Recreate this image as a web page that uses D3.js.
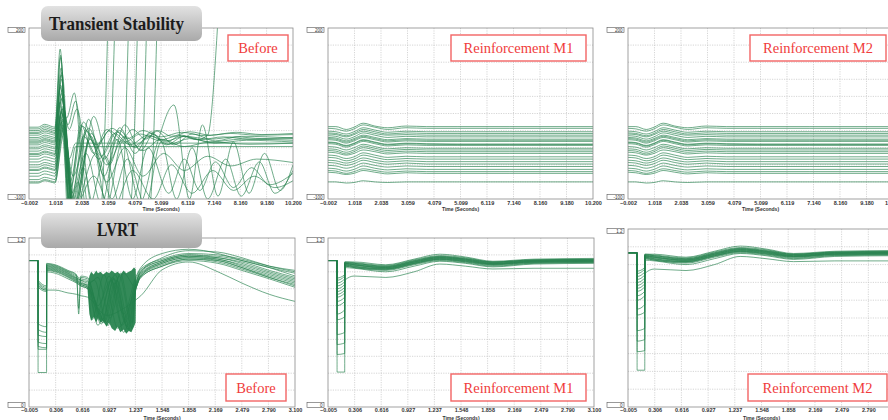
<!DOCTYPE html>
<html>
<head>
<meta charset="utf-8">
<script src="https://cdn.jsdelivr.net/npm/d3@7"></script>
<style>
  body { margin: 0; background: #fff; }
  svg { display: block; }
  .tick text { font-family: "Liberation Sans", Arial, sans-serif; font-size: 5.5px; font-weight: bold; fill: #333; }
</style>
</head>
<body>
<svg id="chart" width="888" height="420"></svg>
<script>
// ---------- data ----------
var topTicks = [-0.002, 1.018, 2.038, 3.059, 4.079, 5.099, 6.119, 7.140, 8.160, 9.180, 10.200];
var lvrtTicks = [-0.005, 0.306, 0.616, 0.927, 1.237, 1.548, 1.858, 2.169, 2.479, 2.790, 3.100];
var angleRange = [-100, 200];
var voltRange = [0, 1.2];
var angleLabels = ["200", "-100"];
var voltLabels = ["1.2", "0"];
var caseNames = ["Before", "Reinforcement M1", "Reinforcement M2"];
var studyNames = ["Transient Stability", "LVRT"];

// rotor angles before reinforcement, [time, angle]
var angleBefore = [
  [[-0.002,26],[0.35,26],[0.6,31],[0.9,27],[1.0,26],[1.2,163],[1.55,-125],[2.75,-125],[3.05,215]],
  [[-0.002,20],[0.35,20],[0.6,25],[0.9,21],[1.0,20],[1.22,148],[1.58,-125],[2.1,-45],[2.5,-115],[3.0,-115],[3.32,215]],
  [[-0.002,12],[0.35,12],[0.6,16],[0.9,13],[1.0,12],[1.27,122],[1.65,-115],[1.9,-70],[2.15,-120],[3.55,-120],[3.85,215]],
  [[-0.002,5],[0.35,5],[0.6,9],[0.9,6],[1.0,5],[1.2,96],[1.45,42],[1.75,86],[2.2,-115],[3.9,-115],[4.2,215]],
  [[-0.002,-2],[0.35,-2],[0.6,2],[0.9,-1],[1.0,-2],[1.25,76],[1.5,30],[1.8,72],[2.3,-115],[2.95,-25],[3.55,-115],[4.25,-115],[4.55,215]],
  [[-0.002,-9],[0.35,-9],[0.6,-5],[0.9,-8],[1.0,-9],[1.3,62],[1.55,22],[1.85,58],[2.45,-115],[4.65,-115],[4.95,215]],
  [[-0.002,-16],[0.35,-16],[0.6,-12],[0.9,-15],[1.0,-16],[1.25,52],[1.7,-60],[2.3,24],[2.9,-30],[3.5,20],[4.1,-10],[4.7,15],[5.3,0],[5.9,12],[6.5,4],[6.9,12],[7.3,215]],
  [[-0.002,-25],[0.35,-25],[0.6,-21],[0.9,-24],[1.0,-25],[1.2,45],[1.55,-100],[2.0,30],[2.5,-20],[3.0,22],[3.5,0],[4.0,22],[4.5,5],[5.0,20],[5.5,10],[6.2,18],[7.0,12],[8.0,17],[9.0,13],[10.2,15]],
  [[-0.002,-35],[0.35,-35],[0.6,-31],[0.9,-34],[1.0,-35],[1.25,35],[1.6,-110],[2.1,10],[2.7,-30],[3.3,15],[3.9,-5],[4.6,12],[5.3,2],[6.0,10],[7.0,5],[8.0,9],[9.0,6],[10.2,8]],
  [[-0.002,-48],[0.35,-48],[0.6,-44],[0.9,-47],[1.0,-48],[1.3,30],[1.7,-120],[2.3,40],[2.9,-60],[3.5,25],[4.1,-20],[4.7,18],[5.3,-5],[6.0,10],[7.0,0],[8.2,5],[10.2,3]],
  [[-0.002,-60],[0.35,-60],[0.6,-56],[0.9,-59],[1.0,-60],[1.3,40],[1.7,-120],[2.4,15],[3.0,-40],[3.7,10],[4.4,-15],[5.1,5],[6.0,-8],[7.0,0],[8.5,-4],[10.2,-2]],
  [[-0.002,-72],[0.35,-72],[0.6,-68],[0.9,-71],[1.0,-72],[1.35,30],[1.75,-120],[2.4,10],[3.0,-110],[3.6,0],[4.3,-105],[4.9,-10],[5.6,65],[6.2,-100],[6.7,30],[7.3,-95],[7.9,0],[8.5,-90],[9.1,-20],[9.7,-85],[10.2,-40]],
  [[-0.002,-55],[0.35,-55],[0.6,-51],[0.9,-54],[1.0,-55],[1.3,25],[1.7,-120],[2.6,-20],[3.2,-100],[3.8,-30],[4.5,-110],[5.1,0],[5.7,-100],[6.3,-10],[6.9,-100],[7.6,-30],[8.2,-95],[8.9,-35],[9.5,-90],[10.2,-50]],
  [[-0.002,-40],[0.35,-40],[0.6,-36],[0.9,-39],[1.0,-40],[1.25,55],[1.6,-100],[2.2,-20],[2.8,-110],[3.4,5],[4.0,-100],[4.6,-10],[5.4,-90],[6.0,-30],[6.6,-85],[7.2,-35],[7.9,-80],[8.6,-45],[9.3,-75],[10.2,-55]],
  [[-0.002,-66],[0.35,-66],[0.6,-62],[0.9,-65],[1.0,-66],[1.3,20],[1.7,-120],[2.5,-60],[3.2,-120],[4.0,-50],[4.8,-100],[5.5,-40],[6.3,-90],[7.1,-50],[7.9,-85],[8.7,-60],[9.5,-80],[10.2,-68]],
  [[-0.002,-20],[0.35,-20],[0.6,-16],[0.9,-19],[1.0,-20],[1.2,70],[1.55,-60],[1.8,-8],[10.2,-8]],
  [[-0.002,0],[0.35,0],[0.6,4],[0.9,1],[1.0,0],[1.25,85],[1.55,-30],[1.8,-2],[10.2,-2]],
  [[-0.002,23],[0.35,23],[0.6,28],[0.9,24],[1.0,23],[1.22,152],[1.5,-130],[10.2,-130]],
  [[-0.002,15],[0.35,15],[0.6,19],[0.9,16],[1.0,15],[1.24,130],[1.55,-130],[10.2,-130]],
  [[-0.002,8],[0.35,8],[0.6,12],[0.9,9],[1.0,8],[1.26,110],[1.6,-130],[10.2,-130]],
  [[-0.002,-5],[0.35,-5],[0.6,-1],[0.9,-4],[1.0,-5],[1.28,92],[1.65,-130],[10.2,-130]],
  [[-0.002,-12],[0.35,-12],[0.6,-8],[0.9,-11],[1.0,-12],[1.3,80],[1.7,-130],[10.2,-130]],
  [[-0.002,-30],[0.35,-30],[0.6,-26],[0.9,-29],[1.0,-30],[1.32,60],[1.75,-130],[10.2,-130]],
  [[-0.002,-44],[0.35,-44],[0.6,-40],[0.9,-43],[1.0,-44],[1.3,48],[1.8,-130],[10.2,-130]],
  [[-0.002,2],[0.35,2],[0.6,6],[0.9,3],[1.0,2],[1.22,100],[1.6,-80],[2.1,35],[2.6,-10],[3.1,20],[3.7,0],[4.3,14],[5.0,3],[5.8,11],[6.6,4],[7.5,9],[8.5,5],[10.2,6]],
  [[-0.002,-70],[0.35,-70],[0.6,-66],[0.9,-69],[1.0,-70],[1.35,15],[1.8,-110],[2.5,45],[3.1,-40],[3.7,30],[4.3,-15],[4.9,20],[5.6,-5],[6.3,14],[7.2,2],[8.2,10],[10.2,7]],
  [[-0.002,17],[0.35,17],[0.6,22],[0.9,18],[1.0,17],[1.24,118],[1.58,-70],[2.05,28],[2.6,-5],[3.2,24],[3.8,6],[4.4,20],[5.1,9],[5.9,17],[6.8,11],[7.8,15],[8.8,12],[10.2,13]],
  [[-0.002,-22],[0.35,-22],[0.6,-18],[0.9,-21],[1.0,-22],[1.28,58],[1.65,-90],[2.2,20],[2.8,-25],[3.4,18],[4.0,-8],[4.7,10],[5.4,-4],[6.2,6],[7.2,-2],[8.4,3],[10.2,0]],
  [[-0.002,-50],[0.35,-50],[0.6,-46],[0.9,-49],[1.0,-50],[1.32,38],[1.72,-115],[2.35,5],[3.0,-70],[3.7,-10],[4.4,-60],[5.2,-20],[6.0,-50],[6.9,-25],[7.8,-42],[8.8,-30],[10.2,-36]]
];

// rotor angles after reinforcement (M1 and M2 look the same), one value per time
var angleTimes = [-0.002, 0.3, 0.7, 1.0, 1.35, 1.8, 2.3, 3.0, 3.8, 5.0, 7.0, 10.2];
var angleReinf = [
  [27, 27, 22, 26, 33, 28, 25, 28, 27, 27, 27, 27],
  [24, 23, 19, 23, 30, 26, 22, 25, 24, 24, 24, 24],
  [19, 18, 14, 18, 25, 21, 17, 19, 18, 18, 18, 18],
  [16, 15, 11, 15, 22, 18, 14, 16, 15, 15, 15, 15],
  [14, 13, 9, 13, 19, 15, 12, 13, 12, 12, 12, 12],
  [11, 10, 5, 9, 16, 12, 8, 10, 9, 9, 9, 9],
  [8, 7, 2, 6, 12, 8, 4, 6, 5, 5, 5, 5],
  [6, 5, 0, 4, 10, 6, 2, 4, 3, 3, 3, 3],
  [4, 3, -2, 2, 8, 4, 0, 2, 1, 1, 1, 1],
  [0, -1, -6, -2, 4, 0, -4, -2, -3, -3.5, -3.5, -3.5],
  [-1, -2, -7, -3, 3, -1, -5, -3, -4, -4.5, -4.5, -4.5],
  [-3, -4, -9, -5, 1, -3, -7, -5, -6, -6, -6, -6],
  [-8, -9, -14, -10, -4, -8, -12, -10, -11, -11, -11, -11],
  [-12, -13, -18, -14, -7, -11, -15, -13, -14, -14, -14, -14],
  [-15, -16, -21, -17, -10, -14, -18, -16, -17, -17, -17, -17],
  [-18, -19, -23, -20, -14, -17, -21, -19, -20, -20, -20, -20],
  [-23, -24, -29, -26, -19, -23, -27, -25, -26, -26, -26, -26],
  [-27, -28, -33, -30, -23, -27, -31, -29, -30, -30, -30, -30],
  [-32, -33, -37, -34, -28, -32, -35, -33, -34.5, -34.5, -34.5, -34.5],
  [-36, -37, -41, -38, -32, -36, -39, -37, -38.6, -38.6, -38.6, -38.6],
  [-41, -42, -46, -43, -37, -41, -44, -42, -43, -43, -43, -43],
  [-46, -47, -51, -48, -42, -46, -49, -47, -48, -48, -48, -48],
  [-50, -51, -55, -52, -47, -50, -53, -51, -52, -52, -52, -52],
  [-53, -54, -57, -55, -50, -53, -56, -54, -55, -55, -55, -55],
  [-70, -70, -72, -71, -68, -70, -71, -70, -70, -70, -70, -70]
];

// LVRT voltages before reinforcement, [time, pu]
var voltBefore = [
  [[-0.005,1.04],[0.1,1.04],[0.101,0.90],[0.2,0.86],[0.201,1.02],[0.3,1.01],[0.45,0.97],[0.55,0.94],[0.575,0.66],[0.6,0.93],[0.68,0.92],[0.8,0.72],[0.95,0.9],[1.1,0.66],[1.24,0.92],[1.3,0.99],[1.55,1.09],[1.86,1.12],[2.2,1.09],[2.48,1.04],[2.8,0.99],[3.1,0.95]],
  [[-0.005,1.04],[0.1,1.04],[0.101,0.89],[0.2,0.85],[0.201,1.015],[0.3,1.005],[0.45,0.965],[0.55,0.935],[0.575,0.7],[0.6,0.92],[0.68,0.91],[0.82,0.66],[0.97,0.92],[1.12,0.6],[1.24,0.9],[1.3,0.98],[1.55,1.05],[1.86,1.09],[2.2,1.08],[2.48,1.05],[2.8,1.0],[3.1,0.97]],
  [[-0.005,1.04],[0.1,1.04],[0.101,0.88],[0.2,0.84],[0.201,1.01],[0.3,1.0],[0.45,0.96],[0.55,0.93],[0.6,0.91],[0.68,0.9],[0.78,0.64],[0.93,0.93],[1.08,0.58],[1.24,0.88],[1.3,0.97],[1.55,1.04],[1.86,1.08],[2.2,1.07],[2.48,1.04],[2.8,0.99],[3.1,0.93]],
  [[-0.005,1.04],[0.1,1.04],[0.101,0.87],[0.2,0.83],[0.201,1.005],[0.3,0.995],[0.45,0.955],[0.55,0.92],[0.6,0.9],[0.68,0.89],[0.85,0.62],[1.0,0.94],[1.15,0.55],[1.24,0.87],[1.3,0.96],[1.55,1.04],[1.86,1.08],[2.2,1.06],[2.48,1.03],[2.8,0.97],[3.1,0.92]],
  [[-0.005,1.04],[0.1,1.04],[0.101,0.86],[0.2,0.83],[0.201,1.0],[0.3,0.99],[0.45,0.95],[0.55,0.915],[0.6,0.9],[0.68,0.88],[0.76,0.9],[0.9,0.6],[1.05,0.93],[1.2,0.56],[1.24,0.86],[1.3,0.95],[1.55,1.03],[1.86,1.07],[2.2,1.06],[2.48,1.02],[2.8,0.96],[3.1,0.91]],
  [[-0.005,1.04],[0.1,1.04],[0.101,0.85],[0.2,0.82],[0.201,0.995],[0.3,0.985],[0.45,0.945],[0.55,0.91],[0.6,0.89],[0.68,0.87],[0.8,0.92],[0.94,0.63],[1.1,0.95],[1.24,0.85],[1.3,0.94],[1.55,1.03],[1.86,1.07],[2.2,1.05],[2.48,1.01],[2.8,0.95],[3.1,0.90]],
  [[-0.005,1.04],[0.1,1.04],[0.101,0.59],[0.2,0.57],[0.201,0.99],[0.3,0.98],[0.45,0.94],[0.55,0.905],[0.6,0.88],[0.68,0.86],[0.84,0.59],[0.99,0.91],[1.14,0.57],[1.24,0.85],[1.3,0.94],[1.55,1.02],[1.86,1.06],[2.2,1.05],[2.48,1.0],[2.8,0.94],[3.1,0.89]],
  [[-0.005,1.04],[0.1,1.04],[0.101,0.55],[0.2,0.53],[0.201,0.985],[0.3,0.975],[0.45,0.935],[0.55,0.9],[0.6,0.88],[0.68,0.86],[0.88,0.61],[1.02,0.9],[1.18,0.54],[1.24,0.84],[1.3,0.93],[1.55,1.02],[1.86,1.06],[2.2,1.04],[2.48,0.99],[2.8,0.93],[3.1,0.88]],
  [[-0.005,1.04],[0.1,1.04],[0.101,0.51],[0.2,0.5],[0.201,0.98],[0.3,0.97],[0.45,0.93],[0.55,0.895],[0.6,0.87],[0.68,0.85],[0.73,0.62],[0.87,0.94],[1.03,0.56],[1.24,0.84],[1.3,0.93],[1.55,1.01],[1.86,1.05],[2.2,1.04],[2.48,0.99],[2.8,0.92],[3.1,0.87]],
  [[-0.005,1.04],[0.1,1.04],[0.101,0.46],[0.2,0.45],[0.201,0.975],[0.3,0.965],[0.45,0.925],[0.55,0.89],[0.6,0.87],[0.68,0.85],[0.92,0.58],[1.06,0.95],[1.2,0.6],[1.24,0.83],[1.3,0.92],[1.55,1.0],[1.86,1.05],[2.2,1.03],[2.48,0.98],[2.8,0.92],[3.1,0.86]],
  [[-0.005,1.04],[0.1,1.04],[0.101,0.43],[0.2,0.42],[0.201,0.97],[0.3,0.96],[0.45,0.92],[0.55,0.885],[0.6,0.86],[0.68,0.84],[0.8,0.58],[0.96,0.9],[1.1,0.53],[1.24,0.86],[1.3,0.96],[1.55,1.06],[1.86,1.11],[2.2,1.1],[2.48,1.06],[2.8,1.0],[3.1,0.96]],
  [[-0.005,1.04],[0.1,1.04],[0.101,0.41],[0.2,0.41],[0.201,0.96],[0.3,0.95],[0.45,0.91],[0.55,0.88],[0.6,0.86],[0.68,0.84],[0.86,0.6],[1.0,0.88],[1.16,0.55],[1.24,0.83],[1.3,0.92],[1.55,1.0],[1.86,1.04],[2.2,1.02],[2.48,0.97],[2.8,0.91],[3.1,0.85]],
  [[-0.005,1.04],[0.1,1.04],[0.101,0.245],[0.2,0.245],[0.201,0.83],[0.3,0.83],[0.45,0.81],[0.55,0.8],[0.6,0.79],[0.68,0.78],[0.9,0.65],[1.1,0.7],[1.24,0.76],[1.3,0.79],[1.55,0.975],[1.86,1.03],[2.2,0.96],[2.48,0.88],[2.8,0.8],[3.1,0.75]]
];
// the dense oscillation between 0.68 s and 1.24 s: upper and lower envelope
var swingTimes = [0.68, 0.7, 0.72, 0.75, 0.78, 0.8, 0.83, 0.86, 0.9, 0.93, 0.96, 1.0, 1.03, 1.06, 1.1, 1.13, 1.16, 1.19, 1.22, 1.24, 1.245];
var swingHigh = [0.86, 0.93, 0.96, 0.94, 0.97, 0.95, 0.96, 0.94, 0.96, 0.95, 0.97, 0.95, 0.96, 0.94, 0.97, 0.95, 0.96, 0.97, 0.99, 0.98, 0.9];
var swingLow = [0.82, 0.66, 0.61, 0.64, 0.6, 0.63, 0.6, 0.61, 0.57, 0.6, 0.56, 0.54, 0.57, 0.53, 0.55, 0.52, 0.54, 0.53, 0.57, 0.6, 0.87];

// LVRT voltages after reinforcement (M1 and M2 look the same)
var voltTimes = [-0.005, 0.1, 0.101, 0.19, 0.191, 0.3, 0.67, 1.0, 1.3, 1.6, 1.92, 2.4, 3.1];
var voltReinf = [
  [1.04, 1.04, 0.916, 0.94, 1.03, 1.03, 1.01, 1.05, 1.085, 1.065, 1.035, 1.05, 1.055],
  [1.04, 1.04, 0.90, 0.93, 1.03, 1.025, 1.005, 1.045, 1.075, 1.06, 1.03, 1.045, 1.05],
  [1.04, 1.04, 0.88, 0.91, 1.025, 1.02, 1.0, 1.04, 1.07, 1.055, 1.03, 1.045, 1.048],
  [1.04, 1.04, 0.86, 0.89, 1.025, 1.02, 0.998, 1.038, 1.068, 1.052, 1.028, 1.042, 1.046],
  [1.04, 1.04, 0.84, 0.87, 1.02, 1.015, 0.995, 1.035, 1.065, 1.05, 1.025, 1.04, 1.044],
  [1.04, 1.04, 0.82, 0.85, 1.02, 1.012, 0.992, 1.032, 1.062, 1.048, 1.022, 1.038, 1.042],
  [1.04, 1.04, 0.80, 0.83, 1.018, 1.01, 0.99, 1.03, 1.06, 1.045, 1.02, 1.036, 1.04],
  [1.04, 1.04, 0.78, 0.81, 1.015, 1.008, 0.988, 1.028, 1.058, 1.043, 1.018, 1.034, 1.038],
  [1.04, 1.04, 0.75, 0.78, 1.012, 1.005, 0.985, 1.025, 1.055, 1.04, 1.016, 1.032, 1.036],
  [1.04, 1.04, 0.72, 0.75, 1.01, 1.0, 0.982, 1.022, 1.052, 1.038, 1.014, 1.03, 1.034],
  [1.04, 1.04, 0.66, 0.69, 1.008, 0.998, 0.98, 1.02, 1.05, 1.035, 1.012, 1.028, 1.032],
  [1.04, 1.04, 0.62, 0.64, 1.005, 0.995, 0.978, 1.018, 1.048, 1.032, 1.01, 1.026, 1.03],
  [1.04, 1.04, 0.515, 0.53, 1.0, 0.99, 0.975, 1.015, 1.045, 1.03, 1.005, 1.022, 1.027],
  [1.04, 1.04, 0.444, 0.455, 0.99, 0.985, 0.96, 1.0, 1.035, 1.02, 0.995, 1.015, 1.02],
  [1.04, 1.04, 0.373, 0.38, 1.0, 0.99, 0.97, 1.01, 1.04, 1.025, 1.0, 1.02, 1.025],
  [1.04, 1.04, 0.248, 0.248, 0.90, 0.93, 0.92, 0.96, 1.015, 1.0, 0.98, 0.985, 0.985]
];

// ---------- drawing ----------
var green = "#23804b";
var svg = d3.select("#chart");
var defs = svg.append("defs");

var grad = defs.append("linearGradient").attr("id", "titleFill")
  .attr("x1", 0).attr("y1", 0).attr("x2", 0).attr("y2", 1);
grad.append("stop").attr("offset", "0%").attr("stop-color", "#e2e2e2");
grad.append("stop").attr("offset", "100%").attr("stop-color", "#a9a9a9");

function pairs(times, vals) {
  return vals.map(function(v, i) { return [times[i], v]; });
}

function drawPanel(id, box, ticks, yDomain, yLabels, traces, tag, tagBox, area) {
  var x = d3.scaleLinear().domain([ticks[0], ticks[ticks.length - 1]]).range([box.left, box.right]);
  var y = d3.scaleLinear().domain(yDomain).range([box.bottom, box.top]);
  var g = svg.append("g");

  defs.append("clipPath").attr("id", id)
    .append("rect").attr("x", box.left).attr("y", box.top)
    .attr("width", box.right - box.left).attr("height", box.bottom - box.top);

  // grid
  var yGrid = d3.range(1, 10).map(function(i) { return yDomain[0] + i * (yDomain[1] - yDomain[0]) / 10; });
  g.append("g").selectAll("line").data(ticks.slice(1, -1)).join("line")
    .attr("x1", function(d) { return x(d); }).attr("x2", function(d) { return x(d); })
    .attr("y1", box.top).attr("y2", box.bottom)
    .attr("stroke", "#c4c4c4").attr("stroke-width", 0.7).attr("stroke-dasharray", "1.2,1.2");
  g.append("g").selectAll("line").data(yGrid).join("line")
    .attr("x1", box.left).attr("x2", box.right)
    .attr("y1", function(d) { return y(d); }).attr("y2", function(d) { return y(d); })
    .attr("stroke", "#c4c4c4").attr("stroke-width", 0.7).attr("stroke-dasharray", "1.2,1.2");

  // traces
  var plot = g.append("g").attr("clip-path", "url(#" + id + ")");
  if (area) {
    plot.append("path")
      .datum(area.t.map(function(t, i) { return [t, area.lo[i], area.hi[i]]; }))
      .attr("fill", green).attr("fill-opacity", 0.92)
      .attr("d", d3.area().x(function(d) { return x(d[0]); })
        .y0(function(d) { return y(d[1]); }).y1(function(d) { return y(d[2]); }));
  }
  var line = d3.line().x(function(d) { return x(d[0]); }).y(function(d) { return y(d[1]); })
    .curve(d3.curveMonotoneX);
  plot.selectAll(".trace").data(traces).join("path")
    .attr("class", "trace")
    .attr("fill", "none").attr("stroke", green).attr("stroke-width", 1).attr("stroke-opacity", 0.65)
    .attr("d", line);

  // frame
  g.append("rect").attr("x", box.left).attr("y", box.top)
    .attr("width", box.right - box.left).attr("height", box.bottom - box.top)
    .attr("fill", "none").attr("stroke", "#8a8a8a").attr("stroke-width", 0.8);

  // x axis
  var ax = g.append("g").attr("transform", "translate(0," + box.bottom + ")")
    .call(d3.axisBottom(x).tickValues(ticks).tickFormat(d3.format(".3f")).tickSize(0).tickPadding(box.pad));
  ax.select(".domain").remove();
  g.append("text").attr("x", (box.left + box.right) / 2).attr("y", box.titleY)
    .attr("text-anchor", "middle").attr("font-family", "Liberation Sans, Arial, sans-serif")
    .attr("font-size", 5).attr("font-weight", "bold").attr("fill", "#333").text("Time (Seconds)");

  // y end labels in little boxes
  [[yLabels[0], box.top - 0.5], [yLabels[1], box.bottom - 4.5]].forEach(function(l) {
    g.append("rect").attr("x", box.left - 21).attr("y", l[1]).attr("width", 17).attr("height", 5)
      .attr("fill", "#fff").attr("stroke", "#555").attr("stroke-width", 0.6);
    g.append("text").attr("x", box.left - 5.5).attr("y", l[1] + 4.2).attr("text-anchor", "end")
      .attr("font-family", "Liberation Sans, Arial, sans-serif").attr("font-size", 4.5).attr("fill", "#333")
      .text(l[0]);
  });

  // red case tag
  g.append("rect").attr("x", tagBox[0]).attr("y", tagBox[1]).attr("width", tagBox[2]).attr("height", tagBox[3])
    .attr("fill", "#fff").attr("stroke", "#f26464").attr("stroke-width", 1.4);
  g.append("text").attr("x", tagBox[0] + tagBox[2] / 2).attr("y", tagBox[1] + tagBox[3] / 2 + 5)
    .attr("text-anchor", "middle").attr("font-family", "Liberation Serif, serif").attr("font-size", 14.5)
    .attr("fill", "#f03c3c").text(tag);
}

var angleReinfPairs = angleReinf.map(function(v) { return pairs(angleTimes, v); });
var voltReinfPairs = voltReinf.map(function(v) { return pairs(voltTimes, v); });
var swing = {t: swingTimes, hi: swingHigh, lo: swingLow};

drawPanel("c1", {left: 29, right: 293, top: 28, bottom: 199, pad: 2, titleY: 211}, topTicks, angleRange, angleLabels,
  angleBefore, caseNames[0], [228, 35, 60, 26]);
drawPanel("c2", {left: 328, right: 593, top: 28, bottom: 199, pad: 2, titleY: 211}, topTicks, angleRange, angleLabels,
  angleReinfPairs, caseNames[1], [451, 35, 135, 26]);
drawPanel("c3", {left: 628, right: 893, top: 28, bottom: 199, pad: 2, titleY: 211}, topTicks, angleRange, angleLabels,
  angleReinfPairs, caseNames[2], [750, 35, 136, 26]);
drawPanel("c4", {left: 29, right: 295, top: 238, bottom: 407, pad: 1.5, titleY: 419.6}, lvrtTicks, voltRange, voltLabels,
  voltBefore, caseNames[0], [226, 374, 60, 27], swing);
drawPanel("c5", {left: 328, right: 594, top: 238, bottom: 407, pad: 1.5, titleY: 419.6}, lvrtTicks, voltRange, voltLabels,
  voltReinfPairs, caseNames[1], [451, 374, 135, 27]);
drawPanel("c6", {left: 628, right: 895, top: 229, bottom: 407, pad: 1.5, titleY: 419.6}, lvrtTicks, voltRange, voltLabels,
  voltReinfPairs, caseNames[2], [748, 374, 139, 27]);

// grey study titles
[[studyNames[0], 41, 6, 49, 30, 135], [studyNames[1], 41, 213, 97, 236, 41]].forEach(function(s) {
  svg.append("rect").attr("x", s[1]).attr("y", s[2]).attr("width", 161).attr("height", 35).attr("rx", 7)
    .attr("fill", "url(#titleFill)");
  svg.append("text").attr("x", s[3]).attr("y", s[4]).attr("font-family", "Liberation Serif, serif")
    .attr("font-weight", "bold").attr("font-size", 18).attr("fill", "#1c1c1c")
    .attr("textLength", s[5]).attr("lengthAdjust", "spacingAndGlyphs").text(s[0]);
});
</script>
</body>
</html>
